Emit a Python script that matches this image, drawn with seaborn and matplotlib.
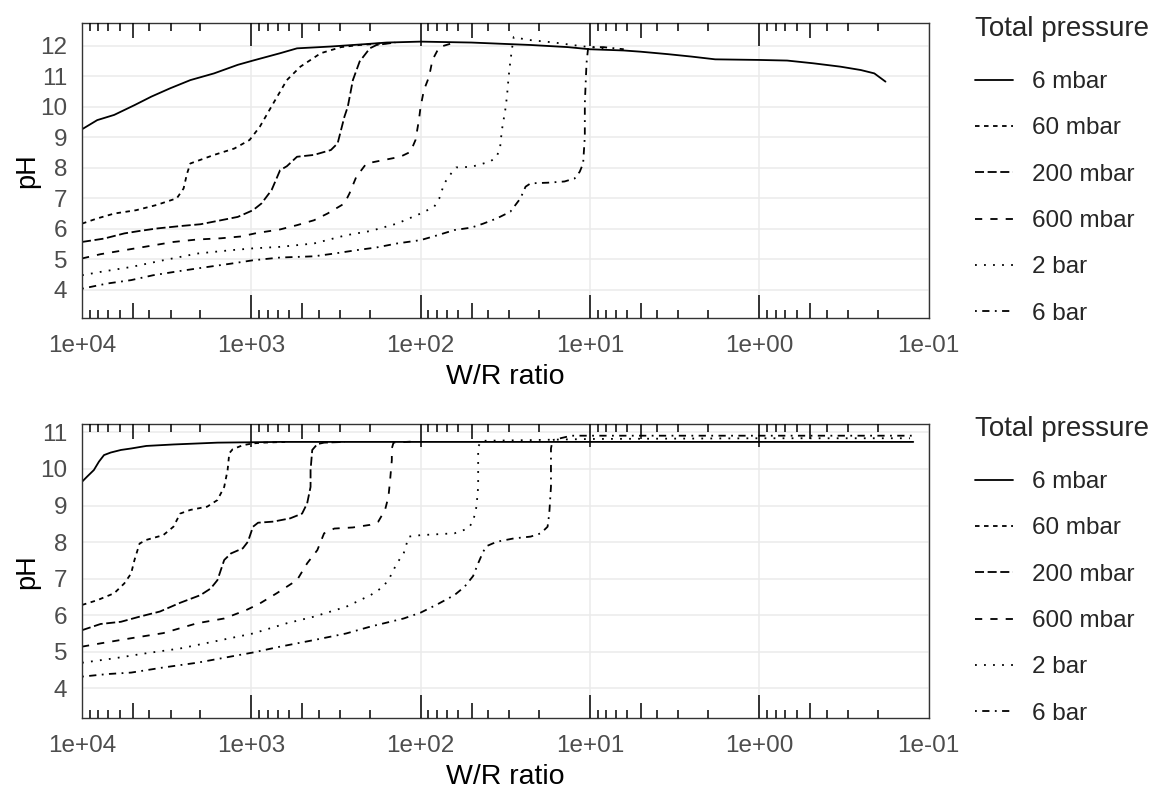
import numpy as np
import pandas as pd
import matplotlib
matplotlib.use("Agg")
import matplotlib.pyplot as plt
from matplotlib.ticker import FixedLocator, NullLocator, FuncFormatter
import seaborn as sns

pressures = ["6 mbar", "60 mbar", "200 mbar", "600 mbar", "2 bar", "6 bar"]

# ---- upper panel: log10(W/R) and pH ----
top_6mbar_logwr = [4.0, 3.91, 3.81, 3.69, 3.59, 3.48, 3.36, 3.22, 3.08, 2.99, 2.83, 2.73, 2.53, 2.32,
                   2.2, 2.0, 1.70, 1.35, 1.13, 1.0, 0.80, 0.70, 0.54, 0.40, 0.26, 0.0, -0.165, -0.32,
                   -0.48, -0.60, -0.68, -0.746]
top_6mbar_ph = [9.26, 9.56, 9.73, 10.05, 10.33, 10.60, 10.87, 11.09, 11.37, 11.51, 11.75, 11.91, 11.97,
                12.05, 12.1, 12.13, 12.10, 12.02, 11.95, 11.88, 11.84, 11.80, 11.72, 11.64, 11.55, 11.53,
                11.51, 11.42, 11.31, 11.20, 11.09, 10.82]

top_60mbar_logwr = [4.0, 3.91, 3.81, 3.68, 3.56, 3.44, 3.40, 3.38, 3.36, 3.22, 3.10, 3.01, 2.95, 2.87,
                    2.79, 2.71, 2.59, 2.47, 2.36, 2.2]
top_60mbar_ph = [6.17, 6.34, 6.50, 6.61, 6.78, 7.0, 7.32, 7.8, 8.14, 8.42, 8.63, 8.91, 9.34, 10.11,
                 10.87, 11.31, 11.75, 11.95, 12.02, 12.08]

top_200mbar_logwr = [4.0, 3.87, 3.75, 3.66, 3.56, 3.42, 3.30, 3.18, 3.08, 2.99, 2.94, 2.88, 2.83, 2.79,
                     2.73, 2.63, 2.53, 2.49, 2.45, 2.43, 2.40, 2.36, 2.30, 2.26, 2.15]
top_200mbar_ph = [5.57, 5.68, 5.85, 5.93, 6.01, 6.09, 6.15, 6.28, 6.39, 6.61, 6.83, 7.27, 7.92, 8.05,
                  8.36, 8.42, 8.58, 8.80, 9.67, 10.0, 10.87, 11.48, 11.91, 12.02, 12.1]

top_600mbar_logwr = [4.0, 3.89, 3.75, 3.62, 3.46, 3.32, 3.18, 3.06, 2.97, 2.83, 2.73, 2.63, 2.55, 2.45,
                     2.42, 2.38, 2.32, 2.22, 2.12, 2.06, 2.03, 2.01, 2.0, 1.98, 1.95, 1.93, 1.89, 1.8]
top_600mbar_ph = [5.03, 5.17, 5.30, 5.42, 5.57, 5.65, 5.69, 5.75, 5.86, 5.98, 6.12, 6.28, 6.50, 6.83,
                  7.16, 7.70, 8.14, 8.25, 8.36, 8.52, 8.91, 9.56, 10.0, 10.55, 10.98, 11.53, 11.95, 12.1]

top_2bar_logwr = [4.0, 3.89, 3.71, 3.52, 3.32, 3.12, 2.99, 2.83, 2.63, 2.44, 2.295, 2.14, 2.0, 1.92,
                  1.89, 1.86, 1.82, 1.79, 1.70, 1.59, 1.55, 1.53, 1.52, 1.50, 1.49, 1.48, 1.47, 1.46,
                  1.45, 1.37, 1.21, 1.05, 0.9]
top_2bar_ph = [4.48, 4.59, 4.75, 4.97, 5.19, 5.30, 5.36, 5.41, 5.52, 5.79, 5.93, 6.17, 6.50, 6.72,
               6.99, 7.49, 7.81, 8.01, 8.03, 8.20, 8.36, 8.69, 9.23, 9.89, 10.33, 10.98, 11.48, 11.9,
               12.28, 12.19, 12.1, 11.98, 11.9]

top_6bar_logwr = [4.0, 3.85, 3.71, 3.58, 3.42, 3.26, 3.12, 2.99, 2.83, 2.63, 2.51, 2.38, 2.26, 2.14,
                  2.0, 1.90, 1.80, 1.70, 1.63, 1.55, 1.47, 1.41, 1.38, 1.35, 1.25, 1.15, 1.09, 1.06,
                  1.04, 1.03, 1.03, 1.02, 1.01, 0.92, 0.8]
top_6bar_ph = [4.04, 4.21, 4.32, 4.48, 4.62, 4.75, 4.86, 4.97, 5.06, 5.10, 5.19, 5.30, 5.39, 5.52,
               5.63, 5.79, 5.96, 6.04, 6.17, 6.34, 6.56, 7.0, 7.38, 7.49, 7.51, 7.55, 7.65, 7.87,
               8.14, 9.02, 10.11, 11.42, 11.95, 11.95, 11.88]

# ---- lower panel ----
bot_6mbar_logwr = [4.0, 3.97, 3.93, 3.90, 3.87, 3.83, 3.77, 3.71, 3.62, 3.46, 3.20, 2.83, 2.0, 1.0,
                   0.0, -0.91]
bot_6mbar_ph = [9.65, 9.79, 9.97, 10.20, 10.38, 10.45, 10.52, 10.56, 10.63, 10.67, 10.72, 10.74,
                10.74, 10.74, 10.74, 10.74]

bot_60mbar_logwr = [4.0, 3.91, 3.81, 3.75, 3.71, 3.69, 3.66, 3.62, 3.52, 3.46, 3.42, 3.36, 3.26, 3.20,
                    3.16, 3.14, 3.13, 3.11, 3.05, 2.99, 2.93, 2.8]
bot_60mbar_ph = [6.28, 6.41, 6.60, 6.87, 7.14, 7.51, 7.96, 8.06, 8.19, 8.42, 8.78, 8.88, 8.97, 9.15,
                 9.51, 9.97, 10.43, 10.54, 10.65, 10.70, 10.72, 10.74]

bot_200mbar_logwr = [4.0, 3.89, 3.77, 3.66, 3.54, 3.42, 3.30, 3.24, 3.20, 3.16, 3.12, 3.05, 3.02, 2.99,
                     2.96, 2.87, 2.77, 2.70, 2.67, 2.65, 2.65, 2.64, 2.61, 2.57, 2.45]
bot_200mbar_ph = [5.59, 5.76, 5.82, 5.96, 6.10, 6.34, 6.55, 6.73, 6.96, 7.51, 7.69, 7.83, 8.01, 8.42,
                  8.53, 8.56, 8.65, 8.78, 9.06, 9.51, 9.97, 10.52, 10.68, 10.72, 10.74]

bot_600mbar_logwr = [4.0, 3.89, 3.71, 3.52, 3.32, 3.16, 3.03, 2.95, 2.85, 2.79, 2.73, 2.67, 2.61, 2.57,
                     2.51, 2.40, 2.30, 2.25, 2.21, 2.19, 2.18, 2.17, 2.17, 2.16, 2.05]
bot_600mbar_ph = [5.14, 5.23, 5.37, 5.51, 5.78, 5.91, 6.14, 6.32, 6.60, 6.78, 6.96, 7.42, 7.78, 8.24,
                  8.37, 8.40, 8.47, 8.56, 8.88, 9.24, 9.70, 10.24, 10.56, 10.72, 10.75]

bot_2bar_logwr = [4.0, 3.81, 3.62, 3.42, 3.22, 2.99, 2.79, 2.63, 2.44, 2.295, 2.22, 2.18, 2.14, 2.10,
                  2.07, 2.0, 1.80, 1.72, 1.69, 1.67, 1.66, 1.66, 1.66, 1.64, 1.35, 1.0, 0.0, -0.89]
bot_2bar_ph = [4.70, 4.82, 4.96, 5.09, 5.28, 5.50, 5.78, 5.96, 6.23, 6.55, 6.78, 7.05, 7.42, 7.69,
               8.15, 8.19, 8.24, 8.37, 8.56, 8.97, 9.51, 10.15, 10.61, 10.77, 10.79, 10.82, 10.84, 10.84]

bot_6bar_logwr = [4.0, 3.85, 3.71, 3.52, 3.32, 3.12, 2.99, 2.83, 2.63, 2.44, 2.295, 2.10, 2.0, 1.90,
                  1.80, 1.74, 1.69, 1.66, 1.63, 1.61, 1.55, 1.45, 1.35, 1.29, 1.25, 1.24, 1.23, 1.23,
                  1.23, 1.22, 1.11, 0.0, -0.91]
bot_6bar_ph = [4.32, 4.39, 4.43, 4.57, 4.70, 4.87, 4.98, 5.14, 5.32, 5.50, 5.69, 5.91, 6.07, 6.30,
               6.55, 6.78, 7.07, 7.42, 7.74, 7.89, 8.01, 8.10, 8.15, 8.24, 8.42, 8.78, 9.51, 10.15,
               10.56, 10.79, 10.91, 10.91, 10.91]

top_yticks = [4, 5, 6, 7, 8, 9, 10, 11, 12]
bot_yticks = [4, 5, 6, 7, 8, 9, 10, 11]
x_decades = [1e4, 1e3, 1e2, 1e1, 1e0, 1e-1]


def make_df(curves):
    parts = []
    for name, (lw, ph) in zip(pressures, curves):
        parts.append(pd.DataFrame({"W/R ratio": 10 ** np.array(lw), "pH": ph, "Total pressure": name}))
    return pd.concat(parts, ignore_index=True)


df_top = make_df([(top_6mbar_logwr, top_6mbar_ph), (top_60mbar_logwr, top_60mbar_ph),
                  (top_200mbar_logwr, top_200mbar_ph), (top_600mbar_logwr, top_600mbar_ph),
                  (top_2bar_logwr, top_2bar_ph), (top_6bar_logwr, top_6bar_ph)])
df_bot = make_df([(bot_6mbar_logwr, bot_6mbar_ph), (bot_60mbar_logwr, bot_60mbar_ph),
                  (bot_200mbar_logwr, bot_200mbar_ph), (bot_600mbar_logwr, bot_600mbar_ph),
                  (bot_2bar_logwr, bot_2bar_ph), (bot_6bar_logwr, bot_6bar_ph)])

sns.set_theme(style="white")
plt.rcParams["font.family"] = ["Liberation Sans", "DejaVu Sans"]

# ggplot-like linetypes: solid, 22, 42, 44, 13, 1343
line_dashes = {"6 mbar": "", "60 mbar": (2.5, 2.5), "200 mbar": (5, 2), "600 mbar": (4, 4.5),
               "2 bar": (1, 4), "6 bar": (1, 3, 4, 3)}
line_w = 1.3

minor_pos = [k * 10.0 ** e for e in range(-1, 4) for k in (2, 3, 4, 6, 7, 8, 9)]
five_pos = [5 * 10.0 ** e for e in range(-1, 4)]


def log_ticks(ax, height_px):
    # annotation_logticks style marks, inside, on top and bottom
    tr = ax.get_xaxis_transform()
    for pos, length in ((x_decades[1:-1], 23), (five_pos, 15), (minor_pos, 8)):
        frac = length / height_px
        ax.vlines(pos, 0, frac, transform=tr, color="black", lw=1.1, clip_on=False, zorder=3)
        ax.vlines(pos, 1 - frac, 1, transform=tr, color="black", lw=1.1, clip_on=False, zorder=3)


def draw_panel(ax, df, yticks, ylim, legend_y, height_px):
    sns.lineplot(data=df, x="W/R ratio", y="pH", style="Total pressure", style_order=pressures,
                 dashes=line_dashes, color="black", linewidth=line_w, sort=False, estimator=None, ax=ax)
    ax.set_xscale("log")
    ax.set_xlim(1e4, 1e-1)
    ax.set_ylim(ylim)
    ax.xaxis.set_major_locator(FixedLocator(x_decades))
    ax.xaxis.set_minor_locator(NullLocator())
    ax.xaxis.set_major_formatter(FuncFormatter(lambda v, p: f"{v:.0e}"))
    ax.set_yticks(yticks)
    ax.grid(True, which="major", color="#EBEBEB", linewidth=1.1)
    ax.set_axisbelow(True)
    for sp in ax.spines.values():
        sp.set_visible(True)
        sp.set_color("#333333")
        sp.set_linewidth(1.0)
    ax.tick_params(axis="both", which="major", direction="out", length=3, width=0.8,
                   color="#333333", labelcolor="#4D4D4D", labelsize=17.5)
    ax.tick_params(axis="x", pad=9)
    ax.tick_params(axis="y", pad=7.5)
    ax.set_xlabel("W/R ratio", fontsize=20.5, color="black")
    ax.set_ylabel("pH", fontsize=19.5, color="black")
    ax.xaxis.set_label_coords(0.5, -59 / height_px)
    ax.xaxis.label.set_va("center")
    ax.yaxis.set_label_coords(-0.065, 0.5)
    ax.yaxis.label.set_va("center")
    log_ticks(ax, height_px)

    handles, labels = ax.get_legend_handles_labels()
    for h in handles:
        h.set_linewidth(line_w)
    leg = ax.legend(handles, labels, title="Total pressure", loc="upper left",
                    bbox_to_anchor=(975 / 1162, legend_y), bbox_transform=ax.figure.transFigure,
                    frameon=False, fontsize=17.5, title_fontsize=20, alignment="left",
                    borderpad=0, borderaxespad=0, handlelength=1.55, handletextpad=0.8,
                    labelspacing=1.0)
    leg._legend_box.sep = 21


fig = plt.figure(figsize=(11.62, 7.92), dpi=100)
ax_top = fig.add_axes([82 / 1162, 1 - 318.3 / 792, 846.5 / 1162, 295 / 792])
ax_bot = fig.add_axes([82 / 1162, 1 - 718.3 / 792, 846.5 / 1162, 294.3 / 792])

draw_panel(ax_top, df_top, top_yticks, (3.07, 12.73), 1 - 16 / 792, 295)
draw_panel(ax_bot, df_bot, bot_yticks, (3.18, 11.23), 1 - 416 / 792, 294.3)

fig.savefig("out.png", dpi=100)
